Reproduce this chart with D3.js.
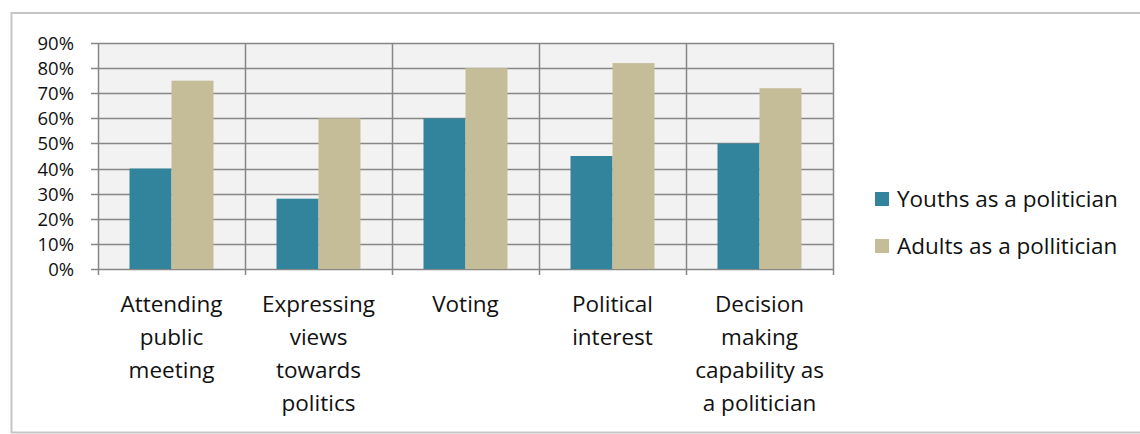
<!DOCTYPE html>
<html>
<head>
<meta charset="utf-8">
<script src="https://cdn.jsdelivr.net/npm/d3@7"></script>
<style>
  body { margin: 0; background: #fff; }
  text { font-family: "Open Sans", "Noto Sans", sans-serif; fill: #111; font-weight: 500; }
</style>
</head>
<body>
<script>
// Chart data
const categories = [
  ['Attending', 'public', 'meeting'],
  ['Expressing', 'views', 'towards', 'politics'],
  ['Voting'],
  ['Political', 'interest'],
  ['Decision', 'making', 'capability as', 'a politician']
];
const seriesNames = ['Youths as a politician', 'Adults as a pollitician'];
const youths = [40, 28, 60, 45, 50];
const adults = [75, 60, 80, 82, 72];
const yTicks = [0, 10, 20, 30, 40, 50, 60, 70, 80, 90];
const colors = ['#31849b', '#c4bd97'];

const w = 1140;
const h = 434;
const plot = { left: 98, right: 833, top: 43, bottom: 269 };

const svg = d3.select('body')
  .append('svg')
  .attr('width', w)
  .attr('height', h);

// Outer frame
svg.append('path')
  .attr('d', `M${w},13 H11.5 V432.5 H${w}`)
  .attr('fill', 'none')
  .attr('stroke', '#c6c6c6')
  .attr('stroke-width', 2);

const keys = d3.range(categories.length);

const x0 = d3.scaleBand()
  .domain(keys)
  .range([plot.left, plot.right]);

const x1 = d3.scaleBand()
  .domain([0, 1])
  .range([0, x0.bandwidth()])
  .paddingOuter(0.75);

const y = d3.scaleLinear()
  .domain([0, 90])
  .range([plot.bottom, plot.top]);

// Plot background
svg.append('rect')
  .attr('x', plot.left)
  .attr('y', plot.top)
  .attr('width', plot.right - plot.left)
  .attr('height', plot.bottom - plot.top)
  .attr('fill', '#f2f2f2');

// Horizontal gridlines
svg.append('g')
  .selectAll('line')
  .data(yTicks)
  .enter()
  .append('line')
  .attr('x1', plot.left - 7)
  .attr('x2', plot.right)
  .attr('y1', d => Math.round(y(d)) + 0.5)
  .attr('y2', d => Math.round(y(d)) + 0.5)
  .attr('stroke', '#878787')
  .attr('stroke-width', 1.5);

// Vertical gridlines / category separators
svg.append('g')
  .selectAll('line')
  .data(d3.range(categories.length + 1))
  .enter()
  .append('line')
  .attr('x1', i => Math.round(plot.left + i * x0.step()) + 0.5)
  .attr('x2', i => Math.round(plot.left + i * x0.step()) + 0.5)
  .attr('y1', plot.top)
  .attr('y2', plot.bottom + 6)
  .attr('stroke', '#878787')
  .attr('stroke-width', 1.5);

// Bars
const data = keys.map(i => [youths[i], adults[i]]);
const groups = svg.append('g')
  .selectAll('g')
  .data(data)
  .enter()
  .append('g')
  .attr('transform', (d, i) => `translate(${x0(i)},0)`);

groups.selectAll('rect')
  .data(d => d)
  .enter()
  .append('rect')
  .attr('x', (d, j) => x1(j))
  .attr('width', x1.bandwidth())
  .attr('y', d => y(d))
  .attr('height', d => y(0) - y(d))
  .attr('fill', (d, j) => colors[j]);

// Y axis labels
svg.append('g')
  .selectAll('text')
  .data(yTicks)
  .enter()
  .append('text')
  .attr('x', 74)
  .attr('y', d => y(d) + 7)
  .attr('text-anchor', 'end')
  .attr('font-size', '18.5px')
  .text(d => d + '%');

// X axis labels
const xl = svg.append('g')
  .selectAll('text')
  .data(categories)
  .enter()
  .append('text')
  .attr('text-anchor', 'middle')
  .attr('font-size', '22.5px')
  .attr('x', (d, i) => x0(i) + x0.bandwidth() / 2)
  .attr('y', 312);

xl.selectAll('tspan')
  .data(d => d)
  .enter()
  .append('tspan')
  .attr('x', function() { return this.parentNode.getAttribute('x'); })
  .attr('dy', (d, k) => k === 0 ? 0 : 33)
  .text(d => d);

// Legend
const legend = svg.append('g')
  .selectAll('g')
  .data(seriesNames)
  .enter()
  .append('g')
  .attr('transform', (d, i) => `translate(875,${192 + i * 47})`);

legend.append('rect')
  .attr('width', 14)
  .attr('height', 14)
  .attr('fill', (d, i) => colors[i]);

legend.append('text')
  .attr('x', 22)
  .attr('y', 15)
  .attr('font-size', '22.5px')
  .text(d => d);
</script>
</body>
</html>
